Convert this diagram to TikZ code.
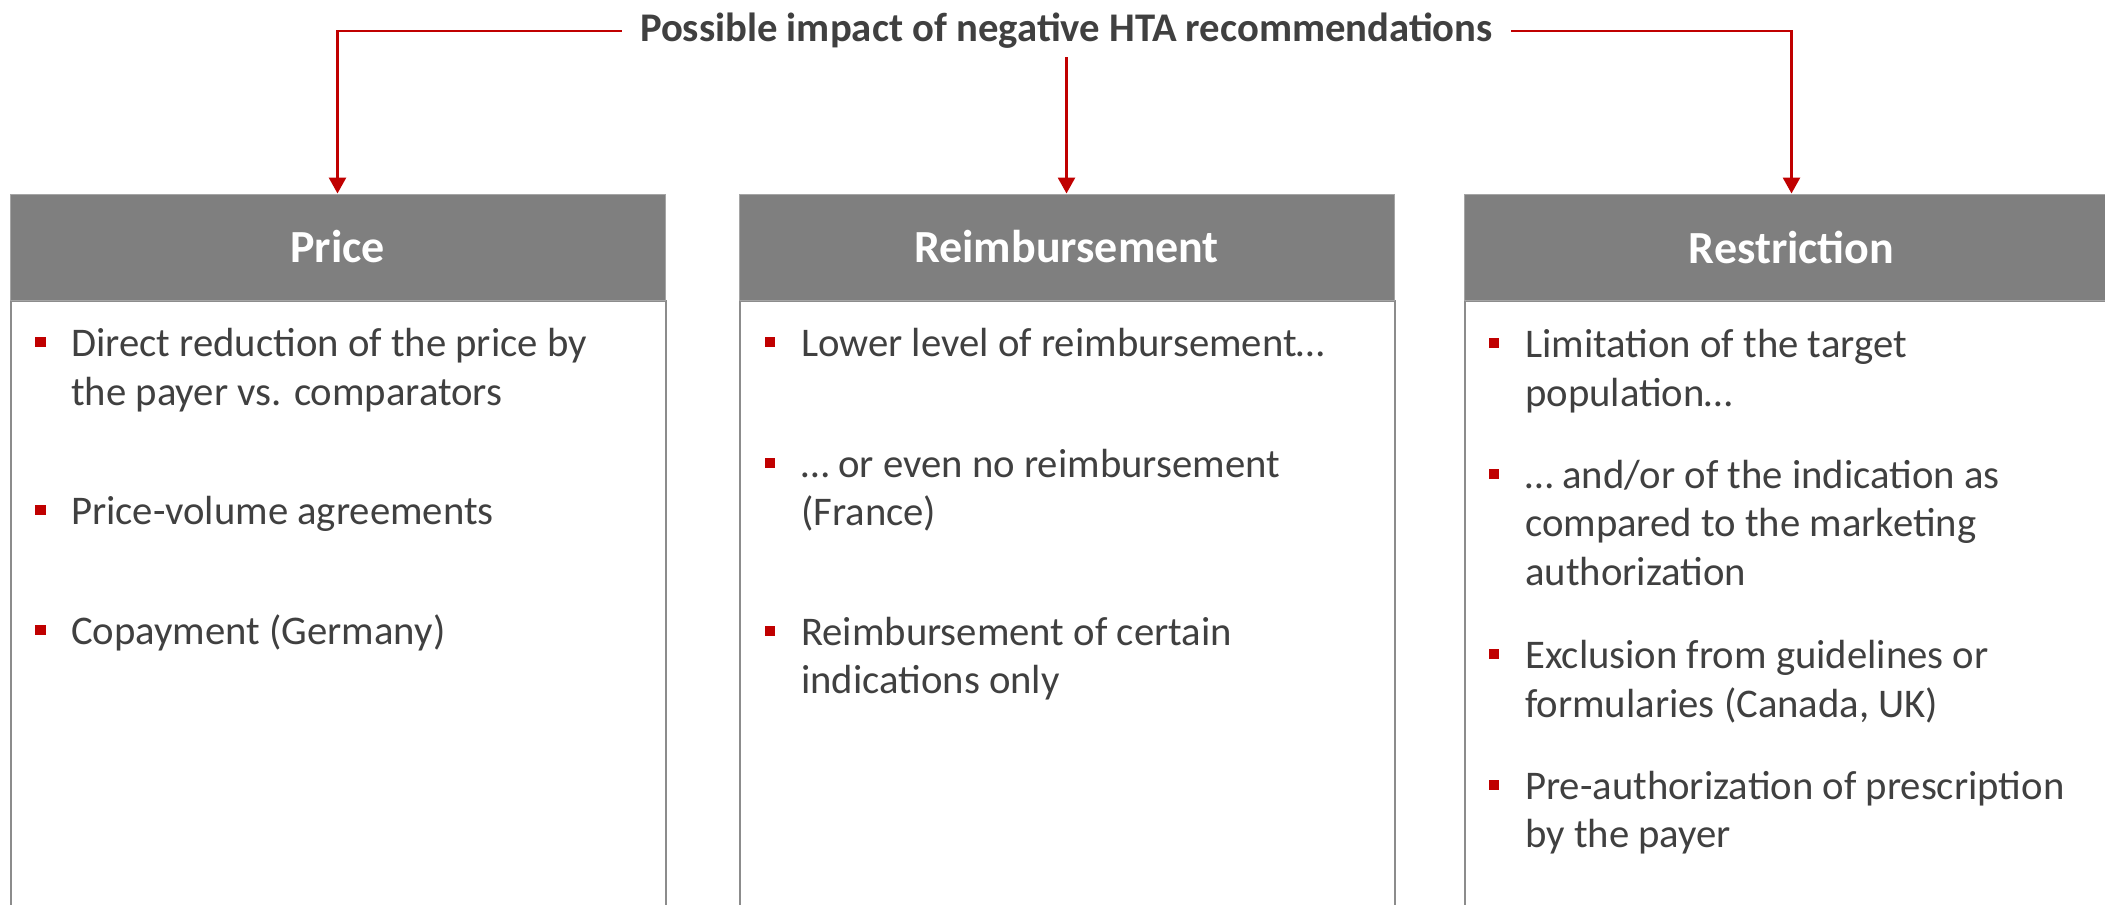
\documentclass[tikz,border=0pt]{standalone}
\usepackage{fontspec}
\setmainfont{Carlito}
\usetikzlibrary{arrows.meta}
\definecolor{hred}{HTML}{C00000}
\definecolor{hgray}{HTML}{7F7F7F}
\definecolor{txtgray}{HTML}{404040}
\definecolor{boxgray}{HTML}{8C8C8C}
\begin{document}
\begin{tikzpicture}[x=1pt,y=-1pt,
  conn/.style={draw=hred,line width=2.8pt,-{Triangle[width=17pt,length=16pt]}},
  titletxt/.style={font={\fontsize{40.7}{48}\selectfont\bfseries},text=txtgray,inner xsep=18pt,inner ysep=8pt,text height=28pt,text depth=8pt,anchor=base},
  headbox/.style={fill=hgray,draw=hgray!70,line width=1pt,minimum width=655pt,minimum height=106pt,inner sep=0pt,text=white,font={\fontsize{46}{54}\selectfont\bfseries}},
  bodybox/.style={draw=boxgray,line width=2pt,fill=white,minimum width=655pt,minimum height=640pt,anchor=north west,inner sep=0pt},
  bodytxt/.style={font={\fontsize{40.7}{48.8}\selectfont},text=txtgray,anchor=base west,inner sep=0pt},
  bulletsq/.style={fill=hred,minimum size=10.5pt,inner sep=0pt}]
\useasboundingbox (0,0) rectangle (2105,905);
\clip (0,0) rectangle (2105,905);
\fill[white] (0,0) rectangle (2105,905);

% boxes
\node[bodybox] (b1) at (10,300) {};
\node[bodybox] (b2) at (739,300) {};
\node[bodybox] (b3) at (1464,300) {};
\node[headbox] (h1) at (337.5,247) {Price};
\node[headbox] (h2) at (1066.5,247) {Reimbursement};
\node[headbox] (h3) at (1791.5,247) {Restriction};

% title and connectors
\node[titletxt] (t) at (1066.5,41) {Possible impact of negative HTA recommendations};
\draw[conn] (t.west) -| (h1.north);
\draw[conn] (t.east) -| (h3.north);
\draw[conn] (t.south) -- (h2.north);

% column 1
\node[bulletsq] (p1) at (40.5,342) {};
\node[bodytxt] (l11) at (71,356) {Direct reduction of the price by};
\node[bodytxt] (l12) at (71,405) {the payer vs. comparators};
\node[bulletsq] (p2) at (40.5,510) {};
\node[bodytxt] (l13) at (71,524) {Price-volume agreements};
\node[bulletsq] (p3) at (40.5,630) {};
\node[bodytxt] (l14) at (71,644) {Copayment (Germany)};

% column 2
\node[bulletsq] (q1) at (770,342) {};
\node[bodytxt] (l21) at (801,356) {Lower level of reimbursement…};
\node[bulletsq] (q2) at (770,463) {};
\node[bodytxt] (l22) at (801,477) {… or even no reimbursement};
\node[bodytxt] (l23) at (801,525) {(France)};
\node[bulletsq] (q3) at (770,631) {};
\node[bodytxt] (l24) at (801,645) {Reimbursement of certain};
\node[bodytxt] (l25) at (801,693) {indications only};

% column 3
\node[bulletsq] (r1) at (1494,343) {};
\node[bodytxt] (l31) at (1525,357) {Limitation of the target};
\node[bodytxt] (l32) at (1525,406) {population…};
\node[bulletsq] (r2) at (1494,474) {};
\node[bodytxt] (l33) at (1525,488) {… and/or of the indication as};
\node[bodytxt] (l34) at (1525,536) {compared to the marketing};
\node[bodytxt] (l35) at (1525,585) {authorization};
\node[bulletsq] (r3) at (1494,654) {};
\node[bodytxt] (l36) at (1525,668) {Exclusion from guidelines or};
\node[bodytxt] (l37) at (1525,717) {formularies (Canada, UK)};
\node[bulletsq] (r4) at (1494,785) {};
\node[bodytxt] (l38) at (1525,799) {Pre-authorization of prescription};
\node[bodytxt] (l39) at (1525,847) {by the payer};
\end{tikzpicture}
\end{document}
